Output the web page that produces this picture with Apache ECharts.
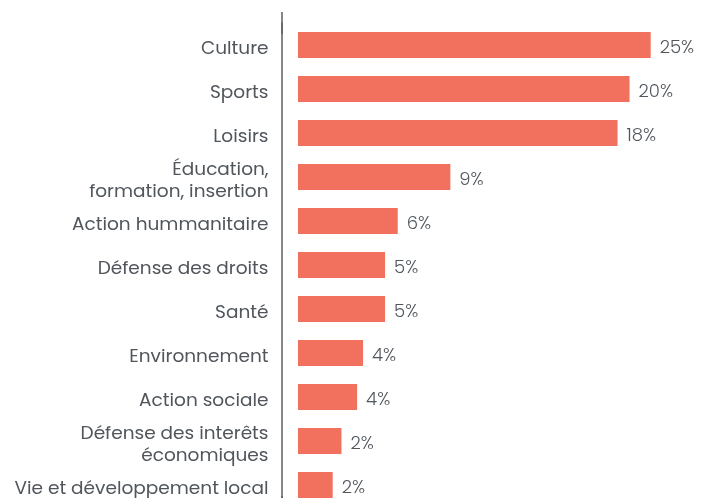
<!DOCTYPE html>
<html>
<head>
<meta charset="utf-8">
<script src="https://cdn.jsdelivr.net/npm/echarts@6/dist/echarts.min.js"></script>
<style>html,body{margin:0;padding:0;background:#fff}#c{width:702px;height:498px}</style>
</head>
<body>
<div id="c"></div>
<script>
// Categories, top to bottom
const categories = [
  'Culture',
  'Sports',
  'Loisirs',
  'Éducation,\nformation, insertion',
  'Action hummanitaire',
  'Défense des droits',
  'Santé',
  'Environnement',
  'Action sociale',
  'Défense des interêts\néconomiques',
  'Vie et développement local'
];
// Bar lengths as drawn in the picture (estimated, same scale where Culture = 25)
const barValues = [25, 23.5, 22.65, 10.8, 7.07, 6.17, 6.17, 4.61, 4.19, 3.08, 2.46];
// Percentages printed next to the bars
const shownPercents = [25, 20, 18, 9, 6, 5, 5, 4, 4, 2, 2];

const chart = echarts.init(document.getElementById('c'), null, {renderer: 'canvas'});
const font = 'Poppins, "Open Sans", "Noto Sans", sans-serif';
const catStyle = {color: '#50565c', fontSize: 18.5, fontFamily: font, lineHeight: 22, align: 'right', padding: [8, 0, 0, 0]};
chart.setOption({
  animation: false,
  backgroundColor: '#ffffff',
  grid: {left: 282, right: 9, top: 23, height: 484, containLabel: false, outerBoundsMode: 'none'},
  xAxis: {
    type: 'value', min: -1.134, max: 28,
    show: false
  },
  yAxis: {
    type: 'category',
    inverse: true,
    data: categories,
    axisLine: {
      show: true,
      onZero: false,
      symbol: ['rect', 'rect'],
      symbolSize: [1.5, 22],
      lineStyle: {color: '#5a5f64', width: 1.5}
    },
    axisTick: {show: false},
    axisLabel: {
      interval: 0,
      color: '#50565c', fontSize: 18.5, fontFamily: font, margin: 13.5,
      align: 'right', lineHeight: 22,
      formatter: v => v.split('\n').map(l => '{a|' + l + '}').join('\n'),
      rich: {a: catStyle}
    },
    splitLine: {show: false}
  },
  series: [{
    type: 'bar',
    data: barValues,
    barWidth: 26,
    itemStyle: {color: '#F2705E'},
    label: {
      show: true, position: 'right', distance: 9,
      color: '#50565c', fontSize: 18, fontWeight: 300, fontFamily: font,
      formatter: p => '{v|' + shownPercents[p.dataIndex] + '%}',
      rich: {
        v: {padding: [6, 0, 0, 0], color: '#50565c', fontSize: 18, fontWeight: 300, fontFamily: font}
      }
    }
  }]
});
</script>
</body>
</html>
